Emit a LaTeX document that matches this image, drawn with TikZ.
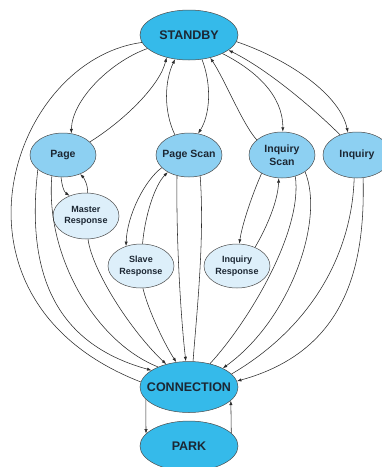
\documentclass[tikz,border=0pt]{standalone}
\usepackage{fontspec}
\setmainfont{Liberation Sans}
\usetikzlibrary{shapes.geometric,arrows.meta}
\definecolor{deepblue}{HTML}{35BAEA}
\definecolor{midblue}{HTML}{8DD0F2}
\definecolor{paleblue}{HTML}{DDEFFA}
\definecolor{ink}{HTML}{1C2733}
\definecolor{edgecol}{HTML}{2B2B2B}
\begin{document}
\begin{tikzpicture}[x=1pt,y=-1pt,
  state/.style={ellipse, draw=edgecol!85, line width=0.5pt, inner sep=0pt},
  bigstate/.style={state, fill=deepblue, minimum width=98pt, minimum height=50pt,
    label={[text=ink, font=\bfseries\fontsize{12.5}{14}\selectfont]center:#1}},
  midstate/.style={state, fill=midblue, minimum width=66pt, minimum height=44pt,
    label={[text=ink, align=center, font=\bfseries\fontsize{10.5}{13}\selectfont]center:#1}},
  smallstate/.style={state, fill=paleblue, minimum width=66pt, minimum height=44pt,
    label={[text=ink, align=center, font=\bfseries\fontsize{9}{11.5}\selectfont]center:#1}},
  link/.style={draw=edgecol, line width=0.55pt},
  arr/.style={link, -{Latex[length=4.5pt,width=3.2pt]}}
]
\useasboundingbox[fill=white] (0,0) rectangle (382,467);

\node[bigstate=STANDBY] (standby) at (189,35) {};
\node[midstate=Page] (page) at (63,155) {};
\node[midstate={Page Scan}] (pscan) at (189,155) {};
\node[midstate={Inquiry\\Scan}, minimum height=46pt] (iscan) at (282,155) {};
\node[midstate=Inquiry, minimum width=68pt, minimum height=46pt] (inq) at (357,155) {};
\node[smallstate={Master\\Response}, minimum height=46pt] (master) at (86,216) {};
\node[smallstate={Slave\\Response}] (slave) at (141,266) {};
\node[smallstate={Inquiry\\Response}] (iresp) at (237,266) {};
\node[bigstate=CONNECTION, minimum height=51pt] (conn) at (189,387) {};
\node[bigstate=PARK] (park) at (189,446) {};

% STANDBY <-> upper states
\draw[arr] (standby.198) .. controls (110,62) and (72,100) .. (page.69);
\draw[arr] (page.26) .. controls (125,120) and (160,85) .. (standby.225);
\draw[arr] (pscan.125) .. controls (163,110) and (165,80) .. (standby.240);
\draw[arr] (standby.298) .. controls (212,85) and (210,115) .. (pscan.67);
\draw[arr] (iscan.149) .. controls (243,125) and (225,80) .. (standby.313);
\draw[arr] (standby.331) .. controls (255,70) and (283,95) .. (iscan.88);
\draw[arr] (inq.130) .. controls (310,105) and (265,68) .. (standby.339);
\draw[arr] (standby.352) .. controls (290,60) and (340,95) .. (inq.112);
% outer arc
\draw[link] (standby.189) .. controls (10,60) and (-70,300) .. (conn.174);

% response states
\draw[arr] (page.265) .. controls (62,186) and (64,192) .. (master.129);
\draw[arr] (master.86) .. controls (88,185) and (84,178) .. (page.312);
\draw[arr] (pscan.205) .. controls (145,180) and (127,215) .. (slave.127);
\draw[arr] (slave.86) .. controls (145,215) and (155,185) .. (pscan.219);
\draw[arr] (iscan.222) .. controls (252,195) and (242,225) .. (iresp.84);
\draw[arr] (iresp.46) .. controls (268,225) and (278,200) .. (iscan.262);

% to CONNECTION
\draw[arr] (page.210) .. controls (25,280) and (60,345) .. (conn.156);
\draw[link] (page.242) .. controls (45,255) and (95,342) .. (conn.147);
\draw[arr] (master.275) .. controls (92,270) and (130,330) .. (conn.135);
\draw[arr] (slave.275) .. controls (148,310) and (165,345) .. (conn.117);
\draw[arr] (pscan.240) .. controls (176,240) and (181,320) .. (conn.97);
\draw[link] (pscan.298) .. controls (205,240) and (196,320) .. (conn.81);
\draw[link] (iscan.302) .. controls (303,230) and (250,320) .. (conn.48);
\draw[arr] (iscan.324) .. controls (325,220) and (290,320) .. (conn.29);
\draw[link] (inq.263) .. controls (352,250) and (315,325) .. (conn.17);
\draw[arr] (inq.285) .. controls (365,260) and (350,350) .. (conn.7);

% CONNECTION <-> PARK
\draw[arr] (conn.196) -- (park.164);
\draw[arr] (park.17) -- (conn.342);
\end{tikzpicture}
\end{document}
